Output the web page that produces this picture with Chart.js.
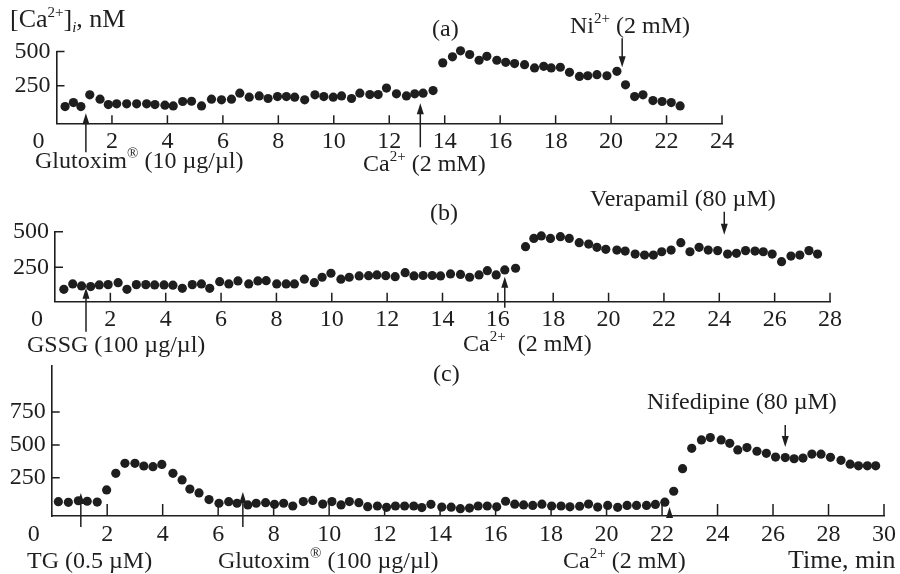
<!DOCTYPE html>
<html><head><meta charset="utf-8">
<script src="https://cdn.jsdelivr.net/npm/chart.js@4/dist/chart.umd.min.js"></script>
<style>
html,body{margin:0;padding:0;background:#fff;}
#wrap{position:relative;width:900px;height:574px;overflow:hidden;font-family:'Liberation Serif','Times New Roman',serif;color:#1e1e1e;}
canvas{position:absolute;left:0;top:0;}
.t{position:absolute;white-space:nowrap;font-size:24px;line-height:1;}
.t sup{font-size:15px;vertical-align:0;position:relative;top:-10px;}
.t sub{font-size:15px;vertical-align:0;position:relative;top:5px;}
</style></head><body>
<div id="wrap">
<canvas id="cA" width="900" height="574"></canvas>
<canvas id="cB" width="900" height="574"></canvas>
<canvas id="cC" width="900" height="574"></canvas>
<div class="t" style="left:10px;top:6px;font-size:26px">[Ca<sup>2+</sup>]<sub><i>i</i></sub>, nM</div>
<div class="t" style="left:432px;top:16px">(a)</div>
<div class="t" style="left:570px;top:13px">Ni<sup>2+</sup> (2 mM)</div>
<div class="t" style="left:35px;top:148px">Glutoxim<sup>®</sup> (10 µg/µl)</div>
<div class="t" style="left:363px;top:151px">Ca<sup>2+</sup> (2 mM)</div>
<div class="t" style="left:430px;top:200px">(b)</div>
<div class="t" style="left:590px;top:186px">Verapamil (80 µM)</div>
<div class="t" style="left:27px;top:332px">GSSG (100 µg/µl)</div>
<div class="t" style="left:463px;top:331px">Ca<sup>2+</sup>&nbsp; (2 mM)</div>
<div class="t" style="left:433px;top:361px">(c)</div>
<div class="t" style="left:647px;top:389px">Nifedipine (80 µM)</div>
<div class="t" style="left:27px;top:548px">TG (0.5 µM)</div>
<div class="t" style="left:218px;top:548px">Glutoxim<sup>®</sup> (100 µg/µl)</div>
<div class="t" style="left:563px;top:548px">Ca<sup>2+</sup> (2 mM)</div>
<div class="t" style="left:788px;top:547px;font-size:26px">Time, min</div>
</div>
<script>
// ---------- DATA ----------
// Panel (a): Glutoxim 10 µg/µl, then Ca2+, then Ni2+
const timeA = [0.31,0.61,0.88,1.2,1.57,1.87,2.17,2.53,2.89,3.25,3.55,3.91,4.21,4.55,4.87,5.23,5.59,5.95,6.31,6.61,6.95,7.31,7.63,7.97,8.29,8.59,8.95,9.32,9.64,9.98,10.28,10.64,10.94,11.3,11.6,11.9,12.26,12.62,12.92,13.22,13.58,13.93,14.28,14.57,14.9,15.24,15.52,15.88,16.2,16.52,16.88,17.24,17.57,17.84,18.17,18.5,18.86,19.16,19.49,19.85,20.21,20.52,20.85,21.15,21.51,21.84,22.17,22.49];
const caA = [98,127,98,184,152,113,118,118,118,118,113,108,103,135,137,103,152,147,152,196,167,176,157,171,171,167,147,184,171,167,176,157,196,186,186,233,191,176,191,196,215,417,461,505,478,436,465,436,421,412,404,380,392,380,385,348,318,323,331,323,355,257,171,184,142,135,127,103];
const addA = [1.06, 13.12, 20.4];          // additions: Glutoxim, Ca2+, Ni2+
const dirA = ['up','up','down'];

// Panel (b): GSSG 100 µg/µl, then Ca2+, then Verapamil
const timeB = [0.32,0.64,0.96,1.29,1.6,1.92,2.28,2.6,2.94,3.28,3.6,3.94,4.26,4.6,4.96,5.29,5.59,5.95,6.28,6.61,7.0,7.33,7.63,8.01,8.35,8.65,9.01,9.37,9.65,9.97,10.33,10.63,10.99,11.33,11.63,11.95,12.29,12.65,12.97,13.3,13.63,13.93,14.29,14.65,14.98,15.32,15.62,15.94,16.25,16.64,17.0,17.3,17.57,17.9,18.26,18.58,18.94,19.28,19.58,19.9,20.3,20.6,20.96,21.3,21.62,21.92,22.26,22.61,22.94,23.27,23.6,23.94,24.3,24.62,24.95,25.29,25.59,25.91,26.25,26.59,26.91,27.24,27.55];
const caB = [95,133,119,114,126,128,142,95,128,128,126,126,124,102,128,133,102,149,133,154,133,154,156,133,133,133,166,142,180,208,166,180,189,191,196,191,184,212,189,192,192,189,203,200,180,196,226,196,231,243,395,453,470,453,465,453,423,413,390,376,371,364,343,336,336,359,371,423,359,390,371,367,343,348,367,364,359,343,289,329,336,367,343];
const addB = [1.12, 16.25, 24.18];         // additions: GSSG, Ca2+, Verapamil
const dirB = ['up','up','down'];

// Panel (c): TG, then Glutoxim 100 µg/µl, then Ca2+, then Nifedipine
const timeC = [0.24,0.6,0.96,1.28,1.64,1.98,2.31,2.64,3.0,3.32,3.65,3.97,4.37,4.7,4.98,5.31,5.67,6.03,6.38,6.68,7.07,7.37,7.71,8.03,8.36,8.69,9.07,9.41,9.77,10.1,10.43,10.73,11.07,11.39,11.74,12.07,12.39,12.72,13.05,13.34,13.67,14.06,14.4,14.73,15.06,15.37,15.7,16.04,16.36,16.69,17.01,17.34,17.67,18.02,18.36,18.68,19.03,19.35,19.68,20.04,20.4,20.74,21.08,21.44,21.76,22.1,22.42,22.74,23.07,23.42,23.74,24.13,24.44,24.73,25.06,25.42,25.76,26.09,26.44,26.76,27.08,27.4,27.73,28.07,28.45,28.78,29.08,29.4,29.7];
const caC = [69,64,76,72,66,158,284,360,360,340,335,352,284,234,165,135,85,57,69,57,44,57,61,49,57,36,70,78,51,70,44,70,61,31,36,26,36,36,36,24,49,28,27,16,20,36,36,30,72,50,44,40,50,36,36,30,34,51,28,40,26,40,40,40,48,65,148,320,474,538,556,538,512,462,480,452,436,408,404,395,400,431,430,406,383,354,341,341,341];
const addC = [1.05, 6.89, 22.27, 26.44];   // additions: TG, Glutoxim, Ca2+, Nifedipine
const dirC = ['up','up','up','down'];

const tickYA = [250, 500];
const tickYB = [250, 500];
const tickYC = [250, 500, 750];

// ---------- STYLE / LAYOUT ----------
const INK = '#1e1e1e';
const FONT = {family: "'Liberation Serif', 'Times New Roman', serif", size: 24};

const extras = {
  id: 'extras',
  afterDraw(chart, args, o) {
    const {ctx, chartArea: ca} = chart;
    const xs = chart.scales.x, ys = chart.scales.y;
    ctx.save();
    ctx.strokeStyle = INK; ctx.fillStyle = INK; ctx.lineWidth = 1.5;
    ctx.beginPath();
    xs.ticks.forEach(t => {
      if (t.value === 0) return;
      const px = xs.getPixelForValue(t.value);
      ctx.moveTo(px, ca.bottom); ctx.lineTo(px, ca.bottom - o.xTickLen);
    });
    ys.ticks.forEach(t => {
      const py = ys.getPixelForValue(t.value);
      ctx.moveTo(ca.left, py); ctx.lineTo(ca.left + o.yTickLen, py);
    });
    ctx.stroke();
    o.adds.forEach((v, i) => {
      const px = xs.getPixelForValue(v);
      const g = o.arrowGeom[i];
      const tail = ca.bottom + g[0], tip = ca.bottom + g[1];
      const s = tip < tail ? 1 : -1;
      ctx.beginPath(); ctx.moveTo(px, tail); ctx.lineTo(px, tip + s * 6); ctx.stroke();
      ctx.beginPath();
      ctx.moveTo(px, tip); ctx.lineTo(px - 3.5, tip + s * 11); ctx.lineTo(px + 3.5, tip + s * 11); ctx.closePath(); ctx.fill();
    });
    ctx.restore();
  }
};

function panel(id, xs, ys, area, xMax, yMin, yMax, yTicks, adds, arrowGeom, xTickLen) {
  const xAxisH = 40;
  return new Chart(document.getElementById(id), {
    type: 'scatter',
    data: {datasets: [{
      data: xs.map((x, i) => ({x, y: ys[i]})),
      pointRadius: 4.6, pointBackgroundColor: INK, pointBorderWidth: 0,
      showLine: false, clip: false
    }]},
    options: {
      responsive: false, animation: false,
      events: [],
      layout: {padding: {left: 0, top: area.top, right: 900 - area.right, bottom: 574 - area.bottom - xAxisH}},
      plugins: {legend: {display: false}, tooltip: {enabled: false},
        extras: {adds, arrowGeom, xTickLen, yTickLen: 8}},
      scales: {
        x: {type: 'linear', min: 0, max: xMax,
          ticks: {stepSize: 2, font: FONT, color: INK, padding: 4, maxRotation: 0, autoSkip: false,
            callback: v => v === 0 ? '0      ' : String(v)},
          grid: {drawOnChartArea: false, drawTicks: false},
          border: {display: true, color: INK, width: 1.6},
          afterFit: s => { s.height = xAxisH; }
        },
        y: {type: 'linear', min: yMin, max: yMax,
          afterBuildTicks: s => { s.ticks = yTicks.map(v => ({value: v})); },
          ticks: {font: FONT, color: INK, padding: 6},
          grid: {drawOnChartArea: false, drawTicks: false},
          border: {display: true, color: INK, width: 1.6},
          afterFit: s => { s.width = area.left; }
        }
      }
    },
    plugins: [extras]
  });
}

panel('cA', timeA, caA, {left: 56.5, right: 722, top: 51.5, bottom: 123.3}, 24, -24, 500, tickYA,
  addA, [[29, -10], [24, -20], [-85, -56]], 8);
panel('cB', timeB, caB, {left: 55, right: 830, top: 231.7, bottom: 301.7}, 28, 8, 500, tickYB,
  addB, [[30, -14], [6, -25], [-90, -67]], 9);
panel('cC', timeC, caC, {left: 51.7, right: 886, top: 366, bottom: 516}, 30, -40, 1100, tickYC,
  addC, [[11, -23], [11, -24], [2, -9], [-91, -69]], 12);
</script>
</body></html>
